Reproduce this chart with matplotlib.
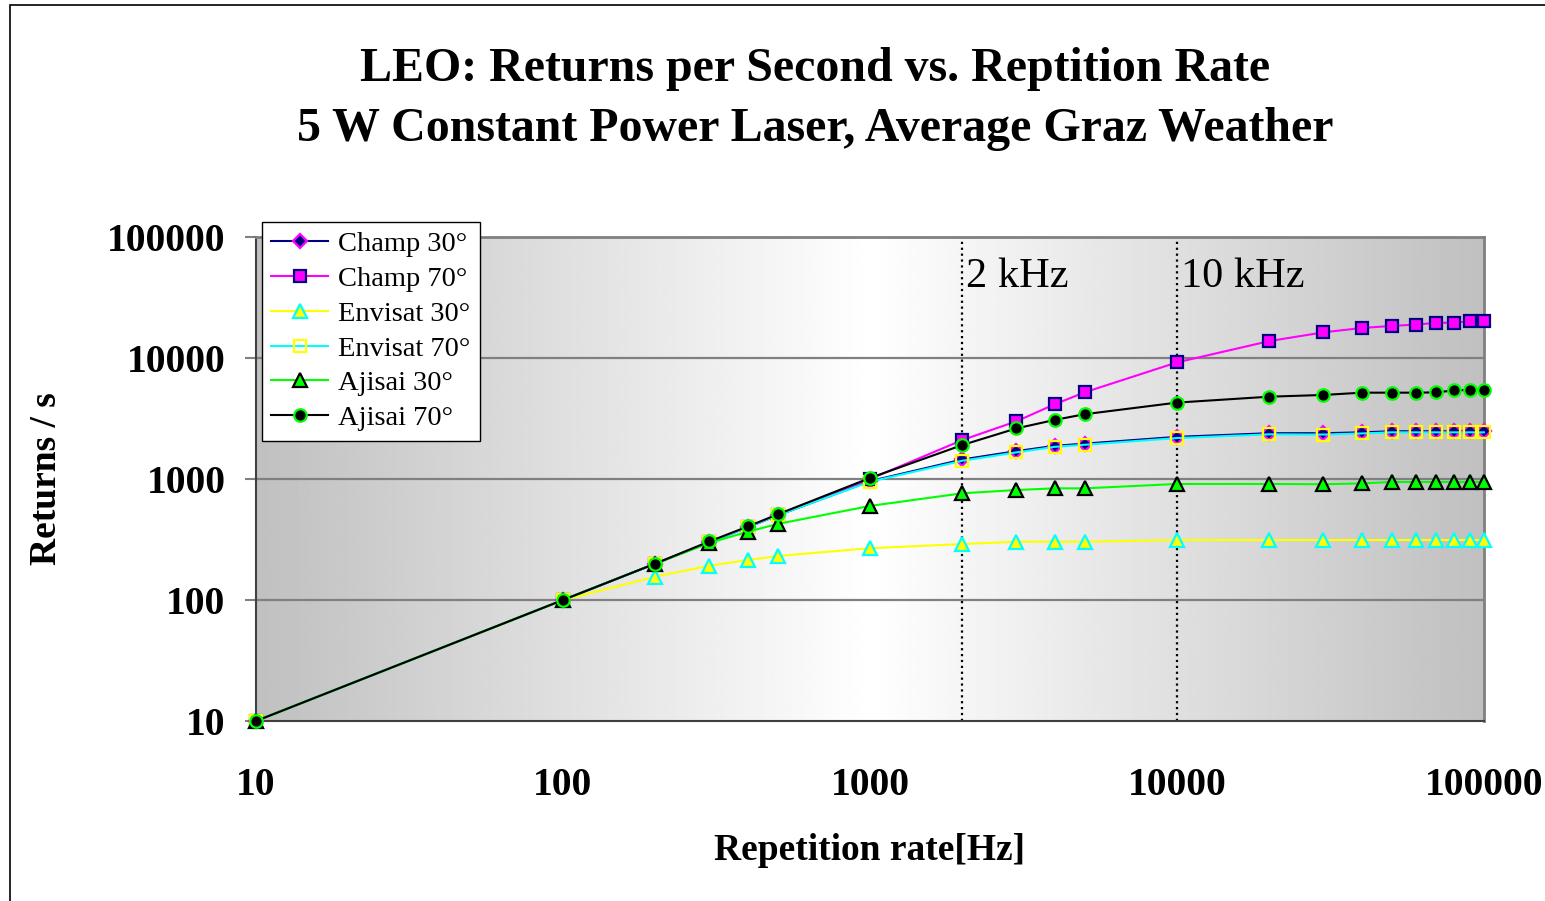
import numpy as np
import matplotlib as mpl
mpl.use('Agg')
import matplotlib.pyplot as plt
from matplotlib.ticker import FixedLocator, FixedFormatter, NullLocator

plt.rcParams['font.family'] = ['Liberation Serif', 'DejaVu Serif']

# repetition rates [Hz]
rate = [10, 100, 200, 300, 400, 500, 1000, 2000, 3000, 4000, 5000, 10000,
        20000, 30000, 40000, 50000, 60000, 70000, 80000, 90000, 100000]

# returns per second
champ_30 = [10, 100, 200, 300, 400, 500, 960, 1450, 1700, 1880, 1960, 2230,
            2390, 2390, 2430, 2480, 2480, 2480, 2480, 2480, 2480]
champ_70 = [10, 100, 200, 300, 400, 500, 1000, 2100, 3000, 4150, 5200, 9200,
            13800, 16300, 17700, 18400, 18900, 19500, 19600, 20100, 20200]
envisat_30 = [10, 100, 156, 192, 214, 231, 268, 290, 303, 303, 303, 313,
              313, 313, 313, 313, 313, 313, 313, 313, 313]
envisat_70 = [10, 100, 200, 300, 400, 500, 950, 1416, 1660, 1845, 1918, 2180,
              2340, 2330, 2380, 2430, 2430, 2430, 2430, 2430, 2430]
ajisai_30 = [10, 100, 200, 296, 367, 425, 599, 762, 811, 837, 837, 910,
             910, 905, 920, 944, 944, 944, 944, 944, 944]
ajisai_70 = [10, 100, 200, 305, 405, 510, 1020, 1910, 2620, 3080, 3430, 4280,
             4790, 4950, 5170, 5170, 5170, 5200, 5400, 5440, 5440]

series = [
    ('Champ 30°', champ_30, '#000080', 'D', '#000080', '#FF00FF', 7.5),
    ('Champ 70°', champ_70, '#FF00FF', 's', '#FF00FF', '#000080', 8.5),
    ('Envisat 30°', envisat_30, '#FFFF00', '^', '#FFFF00', '#00FFFF', 9.5),
    ('Envisat 70°', envisat_70, '#00FFFF', 's', 'none', '#FFFF00', 8.5),
    ('Ajisai 30°', ajisai_30, '#00FF00', '^', '#00FF00', '#000000', 9.5),
    ('Ajisai 70°', ajisai_70, '#000000', 'o', '#000000', '#00FF00', 9),
]

decades = [10, 100, 1000, 10000, 100000]
decade_labels = ['10', '100', '1000', '10000', '100000']

fig = plt.figure(figsize=(15.45, 9.01), dpi=100)

# outer chart frame (only left/top edges visible in the original)
fig.add_artist(plt.Rectangle((10 / 1545, -0.05), 1.2, 1 - 5 / 901 + 0.05,
                             transform=fig.transFigure, fill=False,
                             edgecolor='black', linewidth=1.2))

ax = fig.add_axes([256 / 1545, 1 - 721 / 901, (1484 - 256) / 1545, (721 - 237) / 901])
ax.set_xscale('log')
ax.set_yscale('log')
ax.set_xlim(10, 100000)
ax.set_ylim(10, 100000)

# gradient: grey at edges, white in the middle
g = np.linspace(-1, 1, 512)
shade = 0.753 + (1 - 0.753) * (1 - np.abs(g))
img = np.tile(shade, (2, 1))
ax.imshow(img, cmap='gray', vmin=0, vmax=1, aspect='auto',
          extent=[0, 1, 0, 1], transform=ax.transAxes, zorder=0,
          interpolation='bilinear')

for d in decades[1:-1]:
    ax.axhline(d, color='#808080', linewidth=1.6, zorder=1)

for xv, txt in [(2000, '2 kHz'), (10000, '10 kHz')]:
    ax.axvline(xv, color='black', linestyle=':', linewidth=1.6, zorder=2)
    ax.text(xv * 1.03, 47000, txt, fontsize=30.5, ha='left', va='center', zorder=3)

for name, vals, lc, mk, mfc, mec, ms in series:
    ax.plot(rate, vals, color=lc, linewidth=1.5, marker=mk, markersize=ms,
            markerfacecolor=mfc, markeredgecolor=mec, markeredgewidth=1.6,
            label=name, zorder=4, clip_on=False)

for s in ['left', 'bottom']:
    ax.spines[s].set_color('#404040')
    ax.spines[s].set_linewidth(1.5)
for s in ['top', 'right']:
    ax.spines[s].set_color('#808080')
    ax.spines[s].set_linewidth(2)

ax.xaxis.set_major_locator(FixedLocator(decades))
ax.xaxis.set_major_formatter(FixedFormatter(decade_labels))
ax.yaxis.set_major_locator(FixedLocator(decades))
ax.yaxis.set_major_formatter(FixedFormatter(decade_labels))
ax.xaxis.set_minor_locator(NullLocator())
ax.yaxis.set_minor_locator(NullLocator())
ax.tick_params(axis='x', length=0, pad=33, labelsize=28.5)
ax.tick_params(axis='y', length=8, width=1.5, color='#808080', pad=14, labelsize=28.5)
for lab in ax.get_xticklabels() + ax.get_yticklabels():
    lab.set_fontweight('bold')

ax.set_xlabel('Repetition rate[Hz]', fontsize=27, fontweight='bold', labelpad=21)
ax.set_ylabel('Returns / s', fontsize=27, fontweight='bold', labelpad=31)

fig.text(815 / 1545, 1 - 69 / 901, 'LEO: Returns per Second vs. Reptition Rate',
         ha='center', va='center', fontsize=34.5, fontweight='bold')
fig.text(815 / 1545, 1 - 129 / 901, '5 W Constant Power Laser, Average Graz Weather',
         ha='center', va='center', fontsize=34.5, fontweight='bold')

leg = ax.legend(loc='upper left', bbox_to_anchor=(262 / 1545, 1 - 222 / 901),
                bbox_transform=fig.transFigure, fontsize=20.5, frameon=True,
                fancybox=False, edgecolor='black', framealpha=1,
                handlelength=2.0, handletextpad=0.35, labelspacing=0.31,
                borderpad=0.33, borderaxespad=0)
leg.get_frame().set_linewidth(1.0)
leg.set_zorder(10)

fig.savefig('out.png', dpi=100)
